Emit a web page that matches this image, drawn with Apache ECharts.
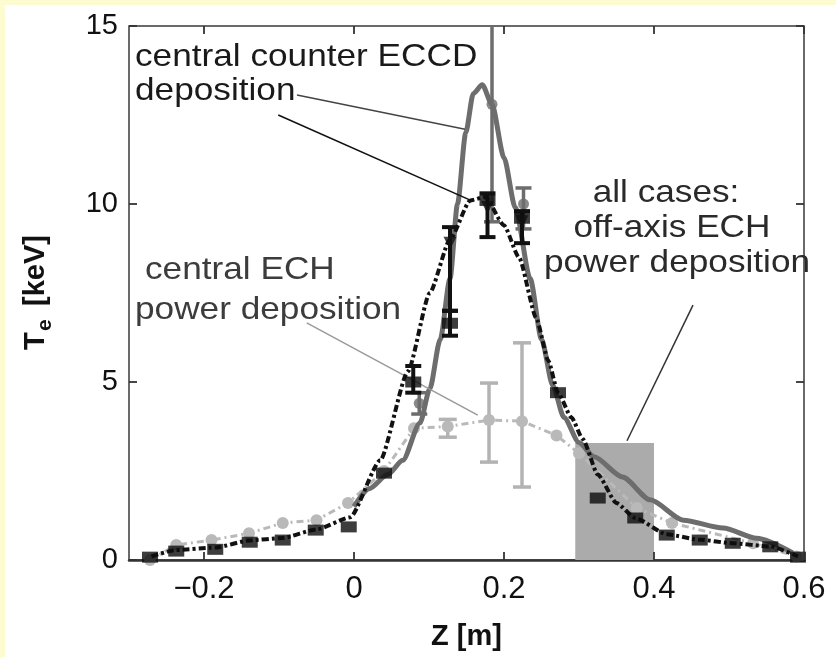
<!DOCTYPE html>
<html>
<head>
<meta charset="utf-8">
<script src="https://cdn.jsdelivr.net/npm/echarts@6/dist/echarts.min.js"></script>
<style>
html, body { margin: 0; padding: 0; background: #ffffff; }
#chart { width: 836px; height: 657px; }
</style>
</head>
<body>
<div id="chart"></div>
<script>
// Electron temperature profiles T_e versus vertical position Z

// axis tick values
const zTicks = [-0.2, 0, 0.2, 0.4, 0.6];
const teTicks = [0, 5, 10, 15];

// central counter-ECCD case: fitted profile (solid)
const eccdZ = [0.0, 0.02, 0.045, 0.065, 0.088, 0.101, 0.115, 0.128, 0.138, 0.149, 0.159, 0.171, 0.184, 0.2, 0.215, 0.235, 0.25, 0.265, 0.28, 0.30, 0.32, 0.358, 0.395, 0.439, 0.492, 0.537, 0.585];
const eccdTe = [1.5, 2.0, 2.4, 2.8, 3.85, 4.8, 6.2, 7.9, 10.0, 12.0, 13.1, 13.35, 12.8, 11.3, 9.9, 7.9, 6.2, 4.9, 4.0, 3.3, 2.9, 2.33, 1.69, 1.12, 0.9, 0.61, 0.2];
// central counter-ECCD case: measured points with error bars
const eccdPtZ = [0.087, 0.184, 0.226];
const eccdPtTe = [4.4, 12.8, 10.0];
const eccdPtLo = [4.1, 9.5, 9.3];
const eccdPtHi = [4.7, 15.8, 10.45];

// off-axis ECH cases: profile (dash-dot)
const offZ = [-0.27, -0.237, -0.185, -0.139, -0.095, -0.05, -0.005, 0.035, 0.072, 0.101, 0.128, 0.155, 0.175, 0.2, 0.22, 0.243, 0.259, 0.272, 0.29, 0.305, 0.325, 0.35, 0.375, 0.417, 0.461, 0.505, 0.555, 0.592];
const offTe = [0.1, 0.28, 0.35, 0.55, 0.62, 0.86, 1.2, 2.8, 5.3, 7.5, 9.0, 10.1, 10.2, 9.4, 8.5, 6.8, 5.6, 4.7, 4.0, 3.4, 2.4, 1.6, 1.18, 0.72, 0.57, 0.47, 0.38, 0.1];
// off-axis ECH cases: square markers
const sqZ = [-0.272, -0.237, -0.185, -0.139, -0.095, -0.051, -0.007, 0.04, 0.079, 0.128, 0.178, 0.224, 0.272, 0.325, 0.375, 0.417, 0.461, 0.505, 0.555, 0.592];
const sqTe = [0.08, 0.25, 0.3, 0.5, 0.56, 0.84, 0.93, 2.44, 5.0, 6.65, 10.1, 9.6, 4.7, 1.74, 1.18, 0.7, 0.56, 0.47, 0.37, 0.08];
const sqErrZ = [0.079, 0.128];
const sqErrLo = [4.7, 6.3];
const sqErrHi = [5.45, 7.0];
// off-axis ECH cases: triangle markers with error bars
const triZ = [0.128, 0.178, 0.224];
const triTe = [8.9, 9.9, 9.5];
const triLo = [7.0, 9.07, 8.9];
const triHi = [9.35, 10.3, 9.8];

// central ECH case (light grey)
const echZ = [-0.272, -0.237, -0.19, -0.14, -0.095, -0.05, -0.008, 0.04, 0.08, 0.125, 0.18, 0.224, 0.27, 0.3, 0.377, 0.424, 0.532, 0.59];
const echTe = [0.0, 0.42, 0.56, 0.75, 1.04, 1.12, 1.6, 2.5, 3.7, 3.75, 3.93, 3.9, 3.5, 3.0, 1.46, 1.04, 0.47, 0.1];
const echErrZ = [0.125, 0.18, 0.224];
const echErrLo = [3.45, 2.75, 2.05];
const echErrHi = [3.95, 4.97, 6.1];

// off-axis ECH power deposition window
const depoZ = [0.295, 0.40];
const depoTe = 3.29;

const Z_MIN = -0.3, Z_MAX = 0.6, TE_MIN = 0, TE_MAX = 15;

const pairs = (xs, ys) => xs.map((x, i) => [x, ys[i]]);
const triples = (xs, lo, hi) => xs.map((x, i) => [x, lo[i], hi[i]]);

function errorBars(color, width, cap) {
  return function (params, api) {
    const x = api.value(0);
    const top = api.coord([x, api.value(2)]);
    const bot = api.coord([x, api.value(1)]);
    const st = () => ({ stroke: color, lineWidth: width });
    return {
      type: 'group',
      children: [
        { type: 'line', shape: { x1: top[0], y1: top[1], x2: bot[0], y2: bot[1] }, style: st() },
        { type: 'line', shape: { x1: top[0] - cap, y1: top[1], x2: top[0] + cap, y2: top[1] }, style: st() },
        { type: 'line', shape: { x1: bot[0] - cap, y1: bot[1], x2: bot[0] + cap, y2: bot[1] }, style: st() }
      ]
    };
  };
}

const FONT = '"Liberation Sans", Arial, Helvetica, sans-serif';
const GRID = { left: 129, right: 32, top: 26, bottom: 97 };

const chart = echarts.init(document.getElementById('chart'), null, { renderer: 'canvas' });

const baseGraphics = [
  // light frame strips at the top and left edge
  { type: 'rect', left: 0, top: 0, shape: { width: 836, height: 5 }, style: { fill: '#fdfcd0' }, z: 100 },
  { type: 'rect', left: 0, top: 0, shape: { width: 5, height: 657 }, style: { fill: '#fdfcd0' }, z: 100 },
  // y-axis title with subscript
  { type: 'text', x: 36, y: 350, rotation: Math.PI / 2, z: 100,
    style: { text: 'T', font: 'bold 29px ' + FONT, fill: '#111', textAlign: 'left', textVerticalAlign: 'middle' } },
  { type: 'text', x: 45, y: 331, rotation: Math.PI / 2, z: 100,
    style: { text: 'e', font: 'bold 21px ' + FONT, fill: '#111', textAlign: 'left', textVerticalAlign: 'middle' } },
  { type: 'text', x: 36, y: 314, rotation: Math.PI / 2, z: 100,
    style: { text: ' [keV]', font: 'bold 29px ' + FONT, fill: '#111', textAlign: 'left', textVerticalAlign: 'middle' } },
  // annotations
  { type: 'text', x: 135, y: 57, scaleX: 1.1, z: 100,
    style: { text: 'central counter ECCD', font: '32px ' + FONT, fill: '#1a1a1a', textAlign: 'left', textVerticalAlign: 'middle' } },
  { type: 'text', x: 135, y: 91, scaleX: 1.1, z: 100,
    style: { text: 'deposition', font: '32px ' + FONT, fill: '#1a1a1a', textAlign: 'left', textVerticalAlign: 'middle' } },
  { type: 'text', x: 145, y: 270, scaleX: 1.1, z: 100,
    style: { text: 'central ECH', font: '32px ' + FONT, fill: '#3c3c3c', textAlign: 'left', textVerticalAlign: 'middle' } },
  { type: 'text', x: 135, y: 310, scaleX: 1.1, z: 100,
    style: { text: 'power deposition', font: '32px ' + FONT, fill: '#3c3c3c', textAlign: 'left', textVerticalAlign: 'middle' } },
  { type: 'text', x: 666, y: 193, scaleX: 1.1, z: 100,
    style: { text: 'all cases:', font: '32px ' + FONT, fill: '#2a2a2a', textAlign: 'center', textVerticalAlign: 'middle' } },
  { type: 'text', x: 672, y: 228, scaleX: 1.1, z: 100,
    style: { text: 'off-axis ECH', font: '32px ' + FONT, fill: '#2a2a2a', textAlign: 'center', textVerticalAlign: 'middle' } },
  { type: 'text', x: 677, y: 263, scaleX: 1.1, z: 100,
    style: { text: 'power deposition', font: '32px ' + FONT, fill: '#2a2a2a', textAlign: 'center', textVerticalAlign: 'middle' } }
];

const option = {
  backgroundColor: '#ffffff',
  animation: false,
  grid: Object.assign({ show: true, borderColor: '#3a3a3a', borderWidth: 1.5, backgroundColor: 'transparent' }, GRID),
  xAxis: {
    type: 'value', min: Z_MIN, max: Z_MAX,
    name: 'Z [m]', nameLocation: 'middle', nameGap: 62,
    nameTextStyle: { fontFamily: FONT, fontSize: 29, fontWeight: 'bold', color: '#111' },
    axisLine: { show: true, onZero: false, lineStyle: { color: '#333', width: 2.5 } },
    axisTick: { show: false },
    axisLabel: { customValues: zTicks, fontFamily: FONT, fontSize: 31, color: '#111', margin: 14,
      formatter: v => (v < 0 ? '\u2212' + Math.abs(v) : String(v)) },
    splitLine: { show: false }
  },
  yAxis: {
    type: 'value', min: TE_MIN, max: TE_MAX, interval: 5,
    axisLine: { show: false, onZero: false },
    axisTick: { show: false },
    axisLabel: { fontFamily: FONT, fontSize: 29, color: '#111', margin: 11 },
    splitLine: { show: false }
  },
  series: [
    {
      // power deposition window
      type: 'custom', name: 'off-axis deposition', z: 1, clip: true,
      data: [[depoZ[0], depoTe, depoZ[1]]],
      renderItem: function (params, api) {
        const a = api.coord([api.value(0), api.value(1)]);
        const b = api.coord([api.value(2), 0]);
        return { type: 'rect', shape: { x: a[0], y: a[1], width: b[0] - a[0], height: b[1] - a[1] },
          style: { fill: '#ababab' } };
      }
    },
    {
      type: 'line', name: 'central ECH', z: 3, data: pairs(echZ, echTe),
      symbol: 'circle', symbolSize: 12, showSymbol: true,
      itemStyle: { color: '#b9b9b9' },
      lineStyle: { color: '#b9b9b9', width: 3, type: [7, 4, 2, 4] }
    },
    {
      type: 'custom', name: 'central ECH errors', z: 3, clip: true,
      data: triples(echErrZ, echErrLo, echErrHi),
      renderItem: errorBars('#b3b3b3', 3.5, 9)
    },
    {
      type: 'line', name: 'central counter ECCD', z: 4, data: pairs(eccdZ, eccdTe),
      smooth: 0.25, smoothMonotone: 'x', showSymbol: false, symbol: 'none',
      lineStyle: { color: '#6d6d6d', width: 5 }
    },
    {
      type: 'custom', name: 'central counter ECCD errors', z: 4, clip: true,
      data: triples(eccdPtZ, eccdPtLo, eccdPtHi),
      renderItem: errorBars('#6d6d6d', 3.5, 8)
    },
    {
      type: 'scatter', name: 'central counter ECCD points', z: 4, data: pairs(eccdPtZ, eccdPtTe),
      symbol: 'circle', symbolSize: 11, itemStyle: { color: '#6d6d6d' }
    },
    {
      type: 'line', name: 'off-axis ECH', z: 5, data: pairs(offZ, offTe),
      smooth: 0.2, smoothMonotone: 'x', showSymbol: false, symbol: 'none',
      lineStyle: { color: '#111', width: 4, type: [7, 3, 3, 3] }
    },
    {
      type: 'scatter', name: 'off-axis ECH squares', z: 6, data: pairs(sqZ, sqTe),
      symbol: 'rect', symbolSize: [16, 11], itemStyle: { color: '#0d0d0d' }
    },
    {
      type: 'custom', name: 'off-axis ECH square errors', z: 6, clip: true,
      data: triples(sqErrZ, sqErrLo, sqErrHi),
      renderItem: errorBars('#111', 4, 8)
    },
    {
      type: 'custom', name: 'off-axis ECH triangle errors', z: 6, clip: true,
      data: triples(triZ, triLo, triHi),
      renderItem: errorBars('#111', 4, 8)
    },
    {
      type: 'scatter', name: 'off-axis ECH triangles', z: 6, data: pairs(triZ, triTe),
      symbol: 'triangle', symbolRotate: 180, symbolSize: 13, itemStyle: { color: '#111' }
    },
    {
      // annotation leader lines, given in data coordinates
      type: 'line', name: 'leaders', z: 7, data: [], silent: true,
      markLine: {
        silent: true, symbol: 'none', animation: false,
        label: { show: false },
        data: [
          [{ coord: [-0.076, 13.06], lineStyle: { color: '#444', width: 1.5, type: 'solid' } }, { coord: [0.148, 12.1] }],
          [{ coord: [-0.101, 12.5], lineStyle: { color: '#111', width: 1.5, type: 'solid' } }, { coord: [0.155, 10.11] }],
          [{ coord: [-0.063, 6.66], lineStyle: { color: '#9a9a9a', width: 1.5, type: 'solid' } }, { coord: [0.165, 4.07] }],
          [{ coord: [0.452, 7.16], lineStyle: { color: '#333', width: 1.5, type: 'solid' } }, { coord: [0.364, 3.35] }]
        ]
      }
    }
  ],
  graphic: baseGraphics
};

chart.setOption(option);

// inward tick marks on all four frame edges, placed through the grid's own scales
const TICK_LEN = 8;
const toPx = (z, te) => chart.convertToPixel({ gridIndex: 0 }, [z, te]);
const tickEls = [];
function addTick(p, dx, dy) {
  tickEls.push({
    type: 'line', z: 90,
    shape: { x1: p[0], y1: p[1], x2: p[0] + dx * TICK_LEN, y2: p[1] + dy * TICK_LEN },
    style: { stroke: '#333', lineWidth: 1.8 }
  });
}
zTicks.forEach(z => {
  addTick(toPx(z, TE_MIN), 0, -1);
  addTick(toPx(z, TE_MAX), 0, 1);
});
teTicks.forEach(te => {
  addTick(toPx(Z_MIN, te), 1, 0);
  addTick(toPx(Z_MAX, te), -1, 0);
});
chart.setOption({ graphic: baseGraphics.concat(tickEls) }, { replaceMerge: ['graphic'] });
</script>
</body>
</html>
